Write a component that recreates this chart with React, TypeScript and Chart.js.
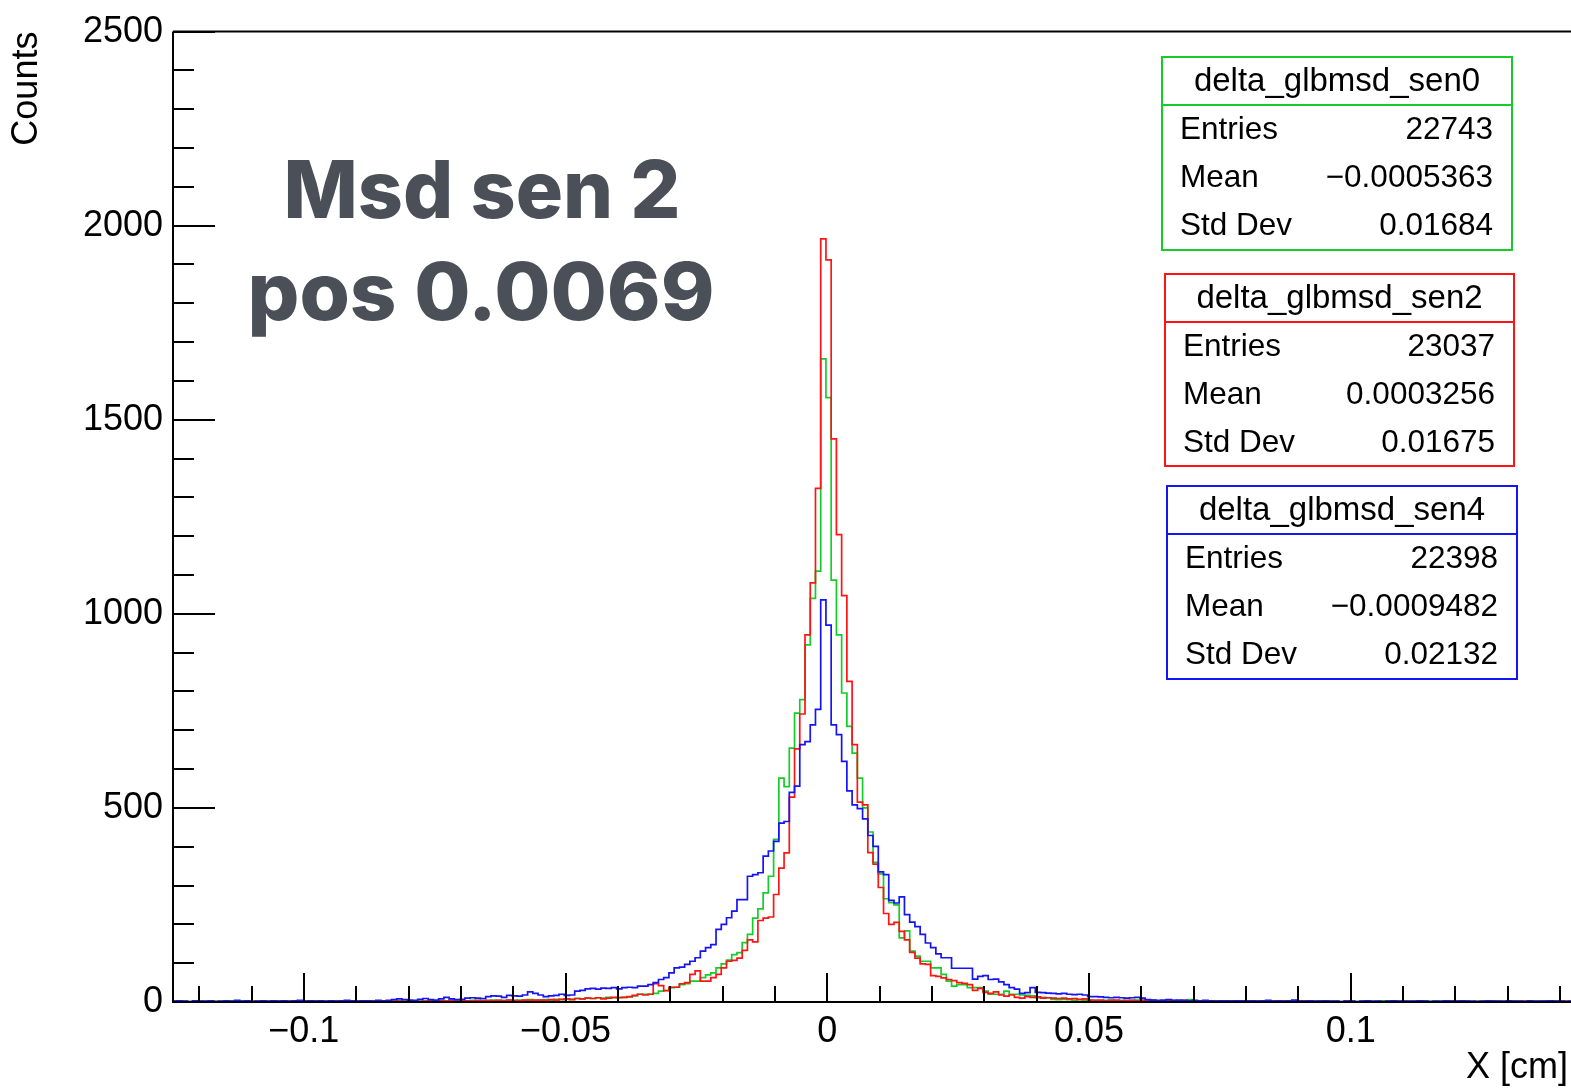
import React, { useEffect, useRef } from "react";
import { Chart, registerables } from "chart.js";

Chart.register(...registerables);

// ---- histogram binning (bin k covers [k*0.001-0.00025, (k+1)*0.001-0.00025]), k = -125 .. 142
const BIN_WIDTH = 0.001;
const FIRST_BIN_LOW = -0.12525;

// delta_glbmsd_sen0 (green)
const SEN0_COUNTS = [
  2, 1, 2, 1, 0, 2, 1, 1, 2, 1,
  1, 2, 1, 2, 1, 0, 2, 1, 1, 2,
  2, 1, 1, 2, 1, 2, 1, 1, 2, 1,
  1, 2, 2, 1, 2, 2, 1, 2, 1, 2,
  2, 2, 1, 3, 2, 2, 3, 2, 2, 3,
  3, 2, 3, 3, 4, 2, 3, 4, 3, 4,
  3, 5, 4, 4, 5, 3, 5, 4, 6, 4,
  5, 6, 5, 7, 6, 8, 7, 9, 8, 10,
  9, 11, 10, 12, 11, 12, 12, 13, 16, 20,
  20, 20, 22, 28, 30, 37, 38, 45, 47, 54,
  54, 63, 70, 75, 88, 98, 108, 122, 127, 153,
  174, 216, 240, 281, 324, 419, 577, 555, 654, 744,
  779, 920, 1040, 1110, 1657, 1557, 1087, 946, 796, 710,
  641, 577, 500, 438, 360, 330, 266, 256, 250, 165,
  183, 131, 118, 105, 105, 88, 88, 71, 54, 41,
  45, 45, 37, 37, 37, 28, 20, 20, 20, 28,
  20, 20, 18, 17, 16, 11, 12, 11, 7, 6,
  7, 6, 5, 6, 5, 4, 4, 3, 4, 5,
  3, 4, 3, 4, 5, 3, 3, 4, 2, 3,
  3, 4, 3, 2, 6, 3, 2, 3, 2, 3,
  2, 2, 3, 2, 3, 2, 2, 3, 2, 2,
  3, 2, 2, 3, 2, 2, 2, 3, 2, 2,
  1, 2, 2, 1, 2, 2, 1, 2, 2, 1,
  2, 3, 2, 1, 2, 2, 1, 2, 2, 3,
  2, 2, 1, 2, 2, 3, 2, 2, 1, 2,
  2, 1, 2, 2, 1, 2, 3, 2, 2, 1,
  2, 2, 1, 2, 3, 2, 2, 1,
];

// delta_glbmsd_sen2 (red)
const SEN2_COUNTS = [
  1, 2, 1, 0, 2, 1, 1, 2, 0, 1,
  1, 0, 2, 1, 1, 2, 1, 0, 1, 2,
  1, 2, 1, 1, 2, 1, 0, 2, 1, 1,
  2, 1, 1, 2, 2, 1, 2, 1, 2, 1,
  2, 1, 2, 2, 1, 3, 2, 1, 2, 3,
  2, 3, 2, 4, 2, 3, 3, 2, 4, 3,
  4, 3, 4, 3, 5, 4, 3, 5, 4, 5,
  5, 4, 6, 5, 7, 8, 6, 9, 8, 10,
  9, 11, 8, 10, 12, 11, 12, 14, 17, 20,
  18, 20, 47, 42, 29, 38, 38, 47, 50, 71,
  80, 54, 54, 63, 71, 88, 105, 107, 113, 133,
  160, 155, 210, 216, 219, 277, 345, 384, 528, 652,
  742, 946, 1080, 1323, 1966, 1912, 1451, 1204, 1047, 826,
  663, 515, 508, 385, 355, 295, 228, 200, 205, 182,
  160, 128, 113, 98, 97, 68, 66, 62, 58, 55,
  50, 48, 45, 30, 35, 25, 22, 26, 18, 15,
  18, 12, 10, 14, 12, 13, 10, 11, 10, 9,
  10, 8, 9, 7, 8, 5, 4, 5, 3, 4,
  5, 3, 4, 4, 3, 5, 3, 4, 3, 2,
  4, 3, 3, 4, 2, 3, 2, 3, 3, 2,
  3, 2, 3, 2, 2, 3, 3, 2, 2, 3,
  2, 1, 2, 3, 2, 2, 2, 1, 0, 2,
  1, 0, 1, 0, 2, 1, 0, 1, 2, 0,
  1, 0, 2, 1, 0, 1, 1, 0, 2, 1,
  0, 1, 0, 1, 2, 0, 1, 2, 0, 1,
  1, 0, 2, 1, 0, 1, 0, 1, 2, 1,
  0, 1, 2, 0, 1, 1, 2, 1,
];

// delta_glbmsd_sen4 (blue)
const SEN4_COUNTS = [
  2, 3, 2, 1, 3, 2, 2, 3, 1, 2,
  3, 2, 4, 2, 3, 1, 2, 3, 2, 3,
  2, 3, 2, 3, 4, 2, 3, 2, 3, 2,
  3, 2, 3, 4, 3, 2, 3, 3, 2, 4,
  3, 4, 6, 8, 6, 5, 4, 7, 9, 6,
  5, 8, 12, 8, 6, 7, 10, 11, 10, 9,
  14, 16, 15, 12, 17, 16, 15, 18, 26, 22,
  18, 14, 16, 17, 20, 17, 18, 28, 30, 34,
  35, 33, 36, 35, 37, 34, 37, 38, 37, 41,
  41, 45, 50, 58, 63, 75, 88, 90, 97, 105,
  114, 131, 140, 148, 187, 200, 217, 234, 264, 264,
  324, 328, 333, 376, 389, 414, 461, 465, 540, 556,
  663, 671, 714, 754, 1036, 971, 714, 689, 620, 544,
  508, 498, 472, 429, 401, 335, 328, 262, 255, 271,
  225, 206, 194, 174, 152, 140, 124, 114, 114, 87,
  87, 87, 87, 59, 66, 68, 58, 59, 52, 45,
  37, 33, 22, 24, 37, 25, 24, 23, 22, 21,
  22, 20, 19, 20, 18, 14, 14, 13, 12, 11,
  12, 11, 10, 11, 12, 10, 6, 5, 4, 5,
  6, 4, 5, 4, 3, 4, 3, 4, 3, 2,
  3, 3, 2, 3, 3, 2, 3, 2, 3, 4,
  2, 3, 2, 3, 5, 2, 2, 3, 2, 2,
  3, 2, 2, 1, 2, 2, 1, 2, 3, 2,
  2, 1, 2, 3, 2, 2, 2, 2, 3, 2,
  1, 2, 2, 3, 2, 2, 3, 2, 2, 1,
  2, 3, 2, 2, 2, 3, 2, 2, 1, 3,
  2, 2, 2, 3, 2, 2, 1, 2,
];

// ---- axes
const X_MIN = -0.125;
const X_MAX = 0.1421;
const Y_MIN = 0;
const Y_MAX = 2500;
const X_TICKS = [-0.1, -0.05, 0, 0.05, 0.1];
const Y_TICKS = [0, 500, 1000, 1500, 2000, 2500];
const X_MINOR_TICKS = [-0.12, -0.11, -0.1, -0.09, -0.08, -0.07, -0.06, -0.05, -0.04, -0.03, -0.02, -0.01, 0, 0.01, 0.02, 0.03, 0.04, 0.05, 0.06, 0.07, 0.08, 0.09, 0.1, 0.11, 0.12, 0.13, 0.14];
const Y_MINOR_TICKS = [0, 100, 200, 300, 400, 500, 600, 700, 800, 900, 1000, 1100, 1200, 1300, 1400, 1500, 1600, 1700, 1800, 1900, 2000, 2100, 2200, 2300, 2400, 2500];
const X_TITLE = "X [cm]";
const Y_TITLE = "Counts";

// ---- stats boxes
const STAT_NAMES = ["delta_glbmsd_sen0", "delta_glbmsd_sen2", "delta_glbmsd_sen4"];
const STAT_ENTRIES = ["22743", "23037", "22398"];
const STAT_MEANS = ["\u22120.0005363", "0.0003256", "\u22120.0009482"];
const STAT_STDDEVS = ["0.01684", "0.01675", "0.02132"];

const ANNOTATION_LINES = ["Msd sen 2", "pos 0.0069"];

const GREEN = "rgb(20,205,40)";
const RED = "rgb(255,20,20)";
const BLUE = "rgb(20,20,245)";
const FONT = '"Liberation Sans", Arial, Helvetica, sans-serif';

function histPoints(counts: number[]) {
  const pts: { x: number; y: number }[] = [];
  counts.forEach((c, i) => {
    const lo = FIRST_BIN_LOW + i * BIN_WIDTH;
    pts.push({ x: lo, y: c }, { x: lo + BIN_WIDTH, y: c });
  });
  return pts;
}

function fmt(v: number) {
  if (v === 0) return "0";
  const s = String(Math.round(v * 1000) / 1000);
  return s.replace("-", "\u2212");
}

export default function App() {
  const ref = useRef<HTMLCanvasElement | null>(null);

  useEffect(() => {
    const canvas = ref.current;
    if (!canvas) return;

    const rootStyle = {
      id: "rootStyle",
      afterDraw(chart: any) {
        const { ctx, chartArea: a, scales } = chart;
        const xs = scales.x;
        const ys = scales.y;
        ctx.save();
        ctx.strokeStyle = "#000";
        ctx.lineWidth = 2;
        ctx.beginPath();
        ctx.moveTo(a.left, a.top);
        ctx.lineTo(a.left, a.bottom);
        ctx.lineTo(chart.width, a.bottom);
        ctx.moveTo(a.left, a.top);
        ctx.lineTo(chart.width, a.top);
        ctx.stroke();

        // y ticks (inside)
        ctx.lineWidth = 2;
        ctx.beginPath();
        Y_MINOR_TICKS.forEach((v) => {
          const y = Math.round(ys.getPixelForValue(v));
          const len = v % 500 === 0 ? 42 : 21;
          ctx.moveTo(a.left, y);
          ctx.lineTo(a.left + len, y);
        });
        // x ticks (inside)
        X_MINOR_TICKS.forEach((v) => {
          const x = Math.round(xs.getPixelForValue(v));
          const major = X_TICKS.some((t) => Math.abs(t - v) < 1e-9);
          const len = major ? 29 : 16;
          ctx.moveTo(x, a.bottom);
          ctx.lineTo(x, a.bottom - len);
        });
        ctx.stroke();

        // axis titles
        ctx.fillStyle = "#000";
        ctx.font = `36px ${FONT}`;
        ctx.textAlign = "right";
        ctx.textBaseline = "middle";
        ctx.fillText(X_TITLE, 1568, 1068);
        ctx.save();
        ctx.translate(27, a.top);
        ctx.rotate(-Math.PI / 2);
        ctx.textAlign = "right";
        ctx.textBaseline = "middle";
        ctx.fillText(Y_TITLE, 0, 0);
        ctx.restore();

        // annotation (bold, fitted to the reference widths)
        ctx.fillStyle = "#4b5058";
        ctx.font = `800 80px Inter, Lato, ${FONT}`;
        ctx.textAlign = "center";
        ctx.textBaseline = "alphabetic";
        const annot = [
          { text: ANNOTATION_LINES[0], cx: 482, base: 218, w: 397 },
          { text: ANNOTATION_LINES[1], cx: 481, base: 320, w: 467 },
        ];
        annot.forEach((l) => {
          const m = ctx.measureText(l.text).width;
          const sx = l.w / m;
          ctx.save();
          ctx.translate(l.cx, l.base);
          ctx.scale(sx, 1);
          ctx.fillText(l.text, 0, 0);
          ctx.restore();
        });

        // stats boxes
        const boxes = [
          { x: 1162, y: 57, w: 350, h: 193, color: GREEN },
          { x: 1165, y: 274, w: 349, h: 192, color: RED },
          { x: 1167, y: 486, w: 350, h: 193, color: BLUE },
        ];
        boxes.forEach((b, i) => {
          ctx.fillStyle = "#fff";
          ctx.fillRect(b.x, b.y, b.w, b.h);
          ctx.strokeStyle = b.color;
          ctx.lineWidth = 2;
          ctx.strokeRect(b.x, b.y, b.w, b.h);
          const hdr = b.y + 48;
          ctx.beginPath();
          ctx.moveTo(b.x, hdr);
          ctx.lineTo(b.x + b.w, hdr);
          ctx.stroke();
          ctx.fillStyle = "#000";
          ctx.textBaseline = "middle";
          ctx.font = `33px ${FONT}`;
          ctx.textAlign = "center";
          ctx.fillText(STAT_NAMES[i], b.x + b.w / 2, b.y + 25);
          ctx.font = `31.5px ${FONT}`;
          const labels = ["Entries", "Mean", "Std Dev"];
          const vals = [STAT_ENTRIES[i], STAT_MEANS[i], STAT_STDDEVS[i]];
          labels.forEach((lab, r) => {
            const yy = hdr + 25 + r * 48;
            ctx.textAlign = "left";
            ctx.fillText(lab, b.x + 18, yy);
            ctx.textAlign = "right";
            ctx.fillText(vals[r], b.x + b.w - 19, yy);
          });
        });
        ctx.restore();
      },
    };

    const chart = new Chart(canvas, {
      type: "line",
      data: {
        datasets: [
          { label: STAT_NAMES[2], data: histPoints(SEN4_COUNTS), borderColor: BLUE, borderWidth: 1.7, pointRadius: 0, tension: 0, fill: false },
          { label: STAT_NAMES[1], data: histPoints(SEN2_COUNTS), borderColor: RED, borderWidth: 1.7, pointRadius: 0, tension: 0, fill: false },
          { label: STAT_NAMES[0], data: histPoints(SEN0_COUNTS), borderColor: GREEN, borderWidth: 1.7, pointRadius: 0, tension: 0, fill: false },
        ],
      },
      options: {
        animation: false,
        responsive: false,
        maintainAspectRatio: false,
        layout: { padding: { top: 29, left: 0, right: 0, bottom: 0 } },
        plugins: { legend: { display: false }, tooltip: { enabled: false } },
        elements: { point: { radius: 0 } },
        scales: {
          x: {
            type: "linear",
            min: X_MIN,
            max: X_MAX,
            border: { display: false },
            grid: { display: false, drawTicks: false },
            afterBuildTicks: (axis: any) => {
              axis.ticks = X_TICKS.map((value) => ({ value }));
            },
            afterFit: (axis: any) => {
              axis.height = 88;
            },
            ticks: {
              autoSkip: false,
              maxRotation: 0,
              padding: 8,
              color: "#000",
              font: { family: FONT, size: 36 },
              callback: (v: any) => fmt(Number(v)),
            },
          },
          y: {
            type: "linear",
            min: Y_MIN,
            max: Y_MAX,
            border: { display: false },
            grid: { display: false, drawTicks: false },
            afterBuildTicks: (axis: any) => {
              axis.ticks = Y_TICKS.map((value) => ({ value }));
            },
            afterFit: (axis: any) => {
              axis.width = 173;
            },
            ticks: {
              autoSkip: false,
              padding: 10,
              color: "#000",
              font: { family: FONT, size: 36 },
              callback: (v: any) => String(v),
            },
          },
        },
      },
      plugins: [rootStyle],
    } as any);

    return () => chart.destroy();
  }, []);

  return (
    <div style={{ position: "fixed", left: 0, top: 0, width: 1571, height: 1090, background: "#fff" }}>
      <canvas ref={ref} width={1571} height={1090} style={{ width: 1571, height: 1090, display: "block" }} />
    </div>
  );
}
